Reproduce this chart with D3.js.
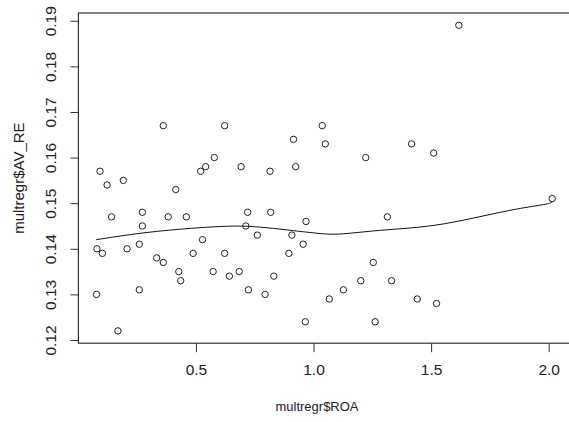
<!DOCTYPE html>
<html>
<head>
<meta charset="utf-8">
<script src="https://cdn.jsdelivr.net/npm/d3@7"></script>
<style>
body { margin: 0; background: #fff; }
text { font-family: "Liberation Sans", Arial, sans-serif; fill: #222; }
</style>
</head>
<body>
<script>
// scatter of multregr$ROA vs multregr$AV_RE
var roa = [0.077, 0.079, 0.092, 0.102, 0.122, 0.141, 0.168, 0.191, 0.207, 0.259,
    0.259, 0.272, 0.272, 0.333, 0.361, 0.361, 0.382, 0.414, 0.427, 0.435,
    0.459, 0.488, 0.520, 0.528, 0.541, 0.573, 0.578, 0.622, 0.622, 0.642,
    0.684, 0.692, 0.712, 0.720, 0.723, 0.761, 0.794, 0.815, 0.818, 0.831,
    0.895, 0.908, 0.915, 0.924, 0.956, 0.965, 0.968, 1.037, 1.050, 1.067,
    1.127, 1.201, 1.222, 1.254, 1.262, 1.314, 1.332, 1.417, 1.441, 1.511,
    1.523, 1.618, 2.015];
var avRe = [0.130, 0.140, 0.157, 0.139, 0.154, 0.147, 0.122, 0.155, 0.140, 0.141,
    0.131, 0.148, 0.145, 0.138, 0.137, 0.167, 0.147, 0.153, 0.135, 0.133,
    0.147, 0.139, 0.157, 0.142, 0.158, 0.135, 0.160, 0.139, 0.167, 0.134,
    0.135, 0.158, 0.145, 0.148, 0.131, 0.143, 0.130, 0.157, 0.148, 0.134,
    0.139, 0.143, 0.164, 0.158, 0.141, 0.124, 0.146, 0.167, 0.163, 0.129,
    0.131, 0.133, 0.160, 0.137, 0.124, 0.147, 0.133, 0.163, 0.129, 0.161,
    0.128, 0.189, 0.151];

// lowess smooth
var smoothX = [0.076, 0.276, 0.494, 0.640, 0.720, 0.829, 0.942, 0.999, 1.070, 1.141,
    1.282, 1.410, 1.551, 1.722, 1.864, 1.998, 2.015];
var smoothY = [0.1420, 0.1436, 0.1446, 0.1450, 0.1450, 0.1445, 0.1438, 0.1435, 0.1431, 0.1433,
    0.1441, 0.1445, 0.1453, 0.1472, 0.1488, 0.1498, 0.1502];

var xTicks = [0.5, 1.0, 1.5, 2.0];
var yTicks = [0.12, 0.13, 0.14, 0.15, 0.16, 0.17, 0.18, 0.19];

var width = 569, height = 422;
var plotLeft = 78.4, plotTop = 13, plotBottom = 343.2;

var svg = d3.select("body")
    .append("svg")
    .attr("width", width)
    .attr("height", height);

svg.append("rect")
    .attr("width", width)
    .attr("height", height)
    .attr("fill", "#fff");

var xScale = d3.scaleLinear().domain([0, 2.09]).range([plotLeft, plotLeft + 2.09 * 235.13]),
    yScale = d3.scaleLinear().domain([0.1193, 0.1917]).range([plotBottom, plotTop]);

var plotRight = xScale(2.09);

// box
svg.append("rect")
    .attr("x", plotLeft)
    .attr("y", plotTop)
    .attr("width", plotRight - plotLeft)
    .attr("height", plotBottom - plotTop)
    .attr("fill", "none")
    .attr("stroke", "#333")
    .attr("stroke-width", 1.2);

// x axis
var xAxis = svg.append("g")
    .attr("transform", "translate(0," + plotBottom + ")")
    .call(d3.axisBottom(xScale).tickValues(xTicks).tickSize(9).tickPadding(12)
        .tickFormat(d3.format(".1f")));
xAxis.select(".domain").remove();
xAxis.selectAll("line").attr("stroke", "#333");
xAxis.selectAll("text")
    .style("font-size", "15.5px")
    .attr("fill", "#222");

// y axis, labels turned like R's default
var yAxis = svg.append("g")
    .attr("transform", "translate(" + plotLeft + ",0)")
    .call(d3.axisLeft(yScale).tickValues(yTicks).tickSize(8).tickFormat(d3.format(".2f")));
yAxis.select(".domain").remove();
yAxis.selectAll("line").attr("stroke", "#333");
yAxis.selectAll("text")
    .attr("x", null)
    .attr("dy", null)
    .attr("text-anchor", "middle")
    .attr("transform", "translate(-22,0) rotate(-90)")
    .style("font-size", "15.5px")
    .attr("fill", "#222");

// smooth line
var line = d3.line()
    .x(function(d) { return xScale(d[0]); })
    .y(function(d) { return yScale(d[1]); })
    .curve(d3.curveBasis);

svg.append("path")
    .datum(d3.zip(smoothX, smoothY))
    .attr("d", line)
    .attr("fill", "none")
    .attr("stroke", "#111")
    .attr("stroke-width", 1);

// points
svg.selectAll(".pt")
    .data(d3.zip(roa, avRe))
    .enter().append("circle")
    .attr("class", "pt")
    .attr("cx", function(d) { return xScale(d[0]); })
    .attr("cy", function(d) { return yScale(d[1]); })
    .attr("r", 3.2)
    .attr("fill", "none")
    .attr("stroke", "#222")
    .attr("stroke-width", 1);

// axis titles
svg.append("text")
    .attr("x", 317)
    .attr("y", 411)
    .attr("text-anchor", "middle")
    .style("font-size", "13px")
    .text("multregr$ROA");

svg.append("text")
    .attr("transform", "translate(24," + (plotTop + plotBottom) / 2 + ") rotate(-90)")
    .attr("text-anchor", "middle")
    .style("font-size", "15px")
    .text("multregr$AV_RE");
</script>
</body>
</html>
